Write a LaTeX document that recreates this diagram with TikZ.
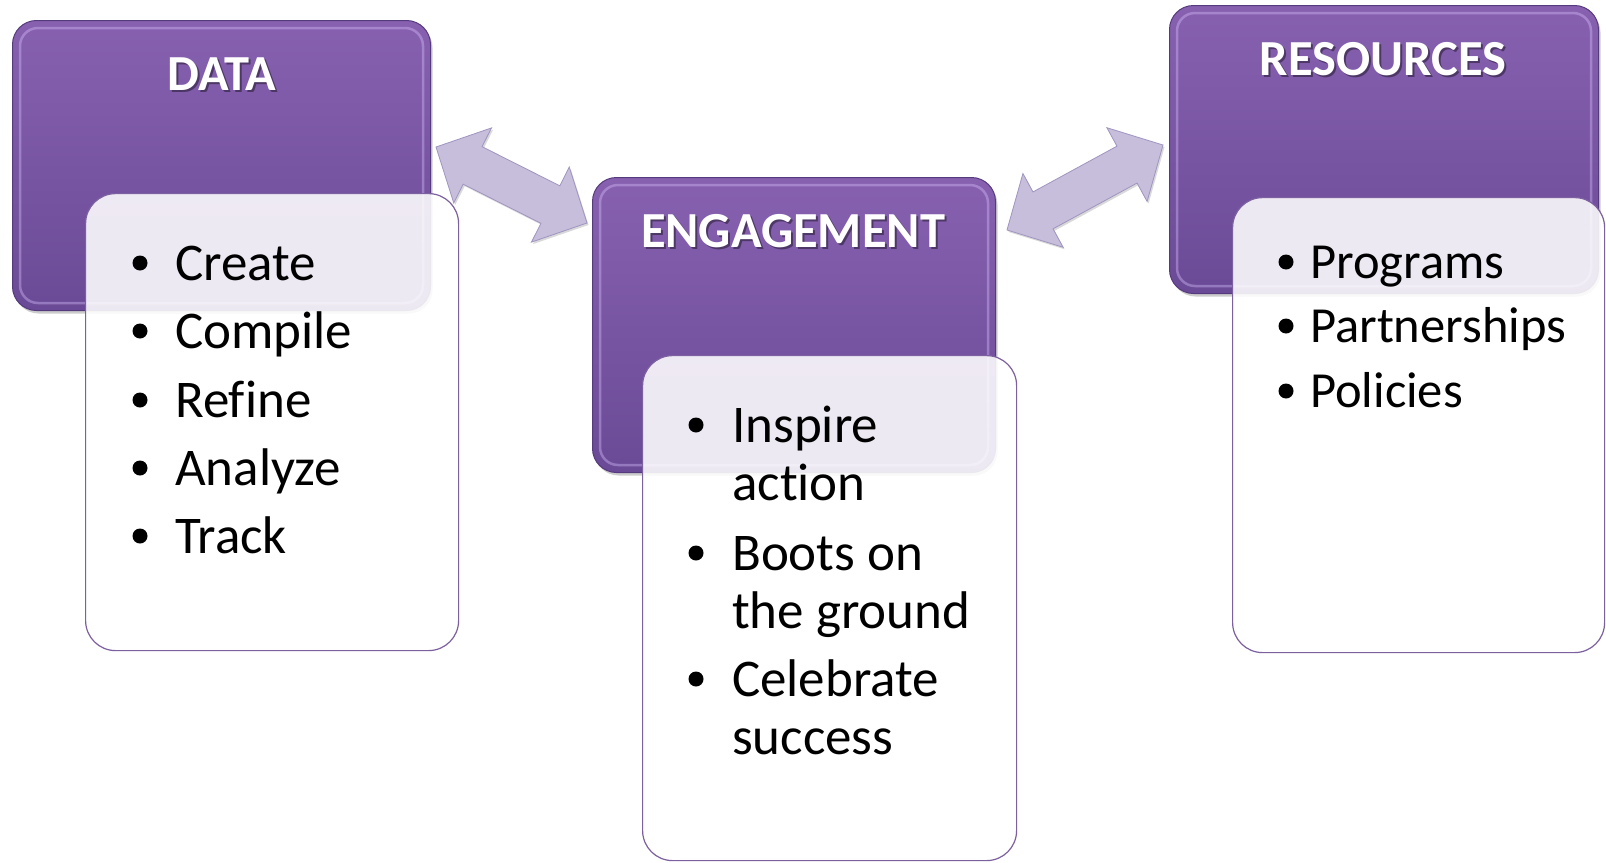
\documentclass[tikz,border=0pt]{standalone}
\usepackage{fontspec}
\setmainfont{Carlito}[Ligatures=NoCommon]
\usetikzlibrary{calc,shadows}
\definecolor{ptop}{RGB}{135,97,176}
\definecolor{pbot}{RGB}{106,74,150}
\definecolor{pedge}{RGB}{86,58,126}
\definecolor{phl}{RGB}{214,190,250}
\definecolor{wedge}{RGB}{124,96,160}
\definecolor{afill}{RGB}{198,190,218}
\definecolor{aedge}{RGB}{160,148,192}
\newcommand{\dblarrow}[2]{%
 \fill[afill, draw=aedge, line width=0.8pt, drop shadow={opacity=0.3, shadow xshift=1.5pt, shadow yshift=-2pt}]
  (#1) -- ($(#1)!41pt!(#2)!42pt!90:(#2)$) -- ($(#1)!41pt!(#2)!21pt!90:(#2)$)
  -- ($(#2)!41pt!(#1)!21pt!-90:(#1)$) -- ($(#2)!41pt!(#1)!42pt!-90:(#1)$)
  -- (#2) -- ($(#2)!41pt!(#1)!42pt!90:(#1)$) -- ($(#2)!41pt!(#1)!21pt!90:(#1)$)
  -- ($(#1)!41pt!(#2)!21pt!-90:(#2)$) -- ($(#1)!41pt!(#2)!42pt!-90:(#2)$) -- cycle;}
\begin{document}
\begin{tikzpicture}[x=1pt,y=-1pt,
  titlebox/.style={draw=pedge, line width=1pt, rounded corners=24pt, top color=ptop, bottom color=pbot,
    anchor=north west, inner sep=0pt,
    drop shadow={opacity=0.4, shadow xshift=2pt, shadow yshift=-3pt}},
  listbox/.style={draw=wedge, line width=1.2pt, rounded corners=30pt, fill=white, fill opacity=0.88,
    anchor=north west, inner sep=0pt},
  titletext/.style={font=\fontsize{50.5}{60}\selectfont\bfseries, text=white, anchor=base, inner sep=0pt},
  titleshadow/.style={font=\fontsize{50.5}{60}\selectfont\bfseries, text=black, text opacity=0.4, anchor=base, inner sep=0pt},
  itemtext/.style={font=\fontsize{53}{58}\selectfont, text=black, anchor=base west, inner sep=0pt},
  itemsmall/.style={font=\fontsize{50.5}{58}\selectfont, text=black, anchor=base west, inner sep=0pt},
  bul/.style={fill=black}
]
\useasboundingbox (0,0) rectangle (1606,862);

% block arrows
\coordinate (la) at (436,147);
\coordinate (lb) at (587,223);
\coordinate (ra) at (1007,230);
\coordinate (rb) at (1163,145);
\dblarrow{la}{lb}
\dblarrow{ra}{rb}

% purple title boxes
\node[titlebox, minimum width=418pt, minimum height=290pt] (data) at (12,20) {};
\node[titlebox, minimum width=403pt, minimum height=295pt] (eng) at (592,177) {};
\node[titlebox, minimum width=429pt, minimum height=288pt] (res) at (1169,5) {};
\foreach \b in {data,eng,res}{
  \draw[phl, opacity=0.4, line width=2.5pt, rounded corners=18pt]
    ($(\b.north west)+(8,8)$) rectangle ($(\b.south east)+(-8,-8)$);
}

% titles
\node[titleshadow] (datash) at (224,92.5) {DATA};
\node[titletext] (datat) at (222,90) {DATA};
\node[titleshadow] (engsh) at (795,249.5) {ENGAGEMENT};
\node[titletext] (engt) at (793,247) {ENGAGEMENT};
\node[titleshadow] (ressh) at (1385,77.5) {RESOURCES};
\node[titletext] (rest) at (1383,75) {RESOURCES};

% list boxes
\node[listbox, minimum width=373pt, minimum height=457pt] (datal) at (85,193) {};
\node[listbox, minimum width=374pt, minimum height=505pt] (engl) at (642,355) {};
\node[listbox, minimum width=372pt, minimum height=455pt] (resl) at (1232,197) {};

% DATA items
\foreach \y/\t/\n in {280/Create/d1, 348/Compile/d2, 417/Refine/d3, 485/Analyze/d4, 553/Track/d5}{
  \fill[bul] (140,\y-17) circle (7.5pt);
  \node[itemtext] (\n) at (175,\y) {\t};
}

% ENGAGEMENT items
\fill[bul] (696,425) circle (7.5pt);
\node[itemtext] (e1a) at (732,442) {Inspire};
\node[itemtext] (e1b) at (732,500) {action};
\fill[bul] (696,553) circle (7.5pt);
\node[itemtext] (e2a) at (732,570) {Boots on};
\node[itemtext] (e2b) at (732,628) {the ground};
\fill[bul] (696,679) circle (7.5pt);
\node[itemtext] (e3a) at (732,696) {Celebrate};
\node[itemtext] (e3b) at (732,754) {success};

% RESOURCES items
\foreach \y/\t/\n in {278/Programs/r1, 342/Partnerships/r2, 407/Policies/r3}{
  \fill[bul] (1286,\y-16) circle (7.5pt);
  \node[itemsmall] (\n) at (1310,\y) {\t};
}
\end{tikzpicture}
\end{document}
